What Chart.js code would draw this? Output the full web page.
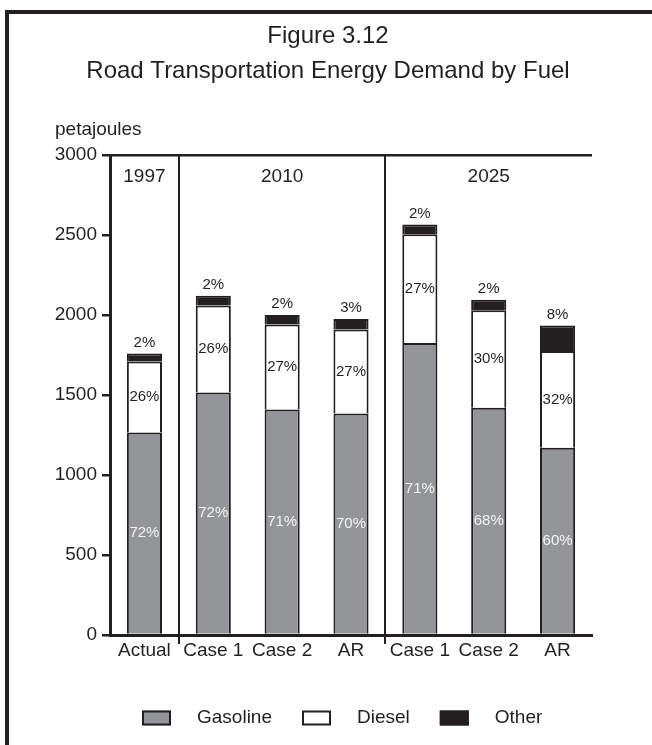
<!DOCTYPE html>
<html>
<head>
<meta charset="utf-8">
<title>Road Transportation Energy Demand by Fuel</title>
<script src="https://cdn.jsdelivr.net/npm/chart.js@4.4.0/dist/chart.umd.min.js"></script>
<style>
  html, body { margin: 0; padding: 0; background: #fff; }
  #wrap { width: 652px; height: 745px; }
</style>
</head>
<body>
<div id="wrap"><canvas id="fuelChart" width="652" height="745"></canvas></div>
<script>
// Chart data (petajoules)
const categories = ['Actual', 'Case 1', 'Case 2', 'AR', 'Case 1', 'Case 2', 'AR'];
const periodLabels = ['1997', '2010', '2025'];
const periodStart = [0, 1, 4];
const periodEnd = [0, 3, 6];

const gasoline = [1265, 1515, 1410, 1385, 1825, 1420, 1170];
const diesel = [445, 545, 530, 525, 680, 610, 605];
const other = [50, 60, 60, 65, 60, 65, 160];

const gasolinePct = ['72%', '72%', '71%', '70%', '71%', '68%', '60%'];
const dieselPct = ['26%', '26%', '27%', '27%', '27%', '30%', '32%'];
const otherPct = ['2%', '2%', '2%', '3%', '2%', '2%', '8%'];

const yTicks = [0, 500, 1000, 1500, 2000, 2500, 3000];
const titleLines = ['Figure 3.12', 'Road Transportation Energy Demand by Fuel'];

const INK = '#231f20';
const GREY = '#939598';
const FONT = "'Liberation Sans', Arial, sans-serif";

// grid lines drawn only at period boundaries (offset grid index)
const boundaries = periodStart.slice(1).concat([categories.length]);

const decorPlugin = {
    id: 'decor',
    beforeDraw(chart) {
        const ctx = chart.ctx;
        ctx.save();
        ctx.fillStyle = '#fff';
        ctx.fillRect(0, 0, chart.width, chart.height);
        // frame: top and left rule
        ctx.strokeStyle = INK;
        ctx.lineWidth = 4;
        ctx.beginPath();
        ctx.moveTo(7, chart.height);
        ctx.lineTo(7, 12);
        ctx.lineTo(chart.width, 12);
        ctx.stroke();

        // title, centred on the page
        ctx.fillStyle = INK;
        ctx.font = '24px ' + FONT;
        ctx.textAlign = 'center';
        ctx.textBaseline = 'middle';
        titleLines.forEach((line, i) => {
            ctx.fillText(line, chart.width / 2 + 2, 36 + i * 35);
        });
        ctx.restore();
    },
    afterDatasetsDraw(chart) {
        const ctx = chart.ctx;
        ctx.save();
        ctx.font = '15px ' + FONT;
        ctx.textAlign = 'center';
        ctx.textBaseline = 'middle';
        const texts = [gasolinePct, dieselPct, otherPct];
        texts.forEach((list, d) => {
            const meta = chart.getDatasetMeta(d);
            meta.data.forEach((bar, i) => {
                const p = bar.getProps(['x', 'y', 'base'], true);
                if (d === 0) {
                    ctx.fillStyle = '#f4f4f4';
                    ctx.fillText(list[i], p.x, (p.y + p.base) / 2);
                } else if (d === 1) {
                    ctx.fillStyle = INK;
                    ctx.fillText(list[i], p.x, (p.y + p.base) / 2);
                } else {
                    ctx.fillStyle = INK;
                    ctx.fillText(list[i], p.x, p.y - 11);
                }
            });
        });
        ctx.restore();
    },
    afterDraw(chart) {
        const ctx = chart.ctx;
        const area = chart.chartArea;
        const x = chart.scales.x;
        ctx.save();
        ctx.fillStyle = INK;
        ctx.font = '19px ' + FONT;

        // unit label
        ctx.textAlign = 'left';
        ctx.textBaseline = 'alphabetic';
        ctx.fillText('petajoules', area.left - 55, area.top - 20);

        // period headings
        ctx.textAlign = 'center';
        ctx.textBaseline = 'middle';
        periodLabels.forEach((label, i) => {
            const cx = (x.getPixelForValue(periodStart[i]) + x.getPixelForValue(periodEnd[i])) / 2;
            ctx.fillText(label, cx, area.top + 22);
        });

        // legend
        const items = chart.data.datasets;
        const boxW = 29, boxH = 15, gapText = 26, gapItem = 30;
        const widths = items.map(ds => ctx.measureText(ds.label).width);
        let lx = area.left + 32;
        const ly = 718;
        ctx.textAlign = 'left';
        items.forEach((ds, i) => {
            ctx.fillStyle = ds.backgroundColor;
            ctx.fillRect(lx, ly - boxH / 2, boxW, boxH);
            ctx.strokeStyle = INK;
            ctx.lineWidth = 2;
            ctx.strokeRect(lx + 1, ly - boxH / 2 + 1, boxW - 2, boxH - 2);
            ctx.fillStyle = INK;
            ctx.fillText(ds.label, lx + boxW + gapText, ly);
            lx += boxW + gapText + widths[i] + gapItem;
        });
        ctx.restore();
    }
};

const barStyle = {
    borderColor: INK,
    borderWidth: 2,
    barPercentage: 0.51,
    categoryPercentage: 1
};

new Chart(document.getElementById('fuelChart'), {
    type: 'bar',
    data: {
        labels: categories,
        datasets: [
            Object.assign({ label: 'Gasoline', data: gasoline, backgroundColor: GREY }, barStyle),
            Object.assign({ label: 'Diesel', data: diesel, backgroundColor: '#ffffff' }, barStyle),
            Object.assign({ label: 'Other', data: other, backgroundColor: INK }, barStyle)
        ]
    },
    options: {
        responsive: false,
        animation: false,
        events: [],
        layout: {
            padding: { left: 0, right: 60, top: 155, bottom: 80 }
        },
        plugins: {
            legend: { display: false },
            tooltip: { enabled: false },
            title: { display: false }
        },
        scales: {
            x: {
                stacked: true,
                offset: true,
                afterFit: scale => { scale.height = 30; },
                grid: {
                    offset: true,
                    color: c => boundaries.includes(c.index) ? INK : 'transparent',
                    tickColor: c => boundaries.includes(c.index) ? INK : 'transparent',
                    lineWidth: 2,
                    tickLength: 9
                },
                border: { display: true, color: INK, width: 3 },
                ticks: {
                    color: INK,
                    font: { family: FONT, size: 19 },
                    padding: -5,
                    maxRotation: 0,
                    autoSkip: false
                }
            },
            y: {
                stacked: true,
                min: yTicks[0],
                max: yTicks[yTicks.length - 1],
                afterFit: scale => { scale.width = 110; },
                afterBuildTicks: scale => {
                    scale.ticks = yTicks.map(v => ({ value: v }));
                },
                grid: {
                    color: c => (c.tick && c.tick.value === yTicks[yTicks.length - 1]) ? INK : 'transparent',
                    tickColor: INK,
                    lineWidth: 2.5,
                    tickLength: 8
                },
                border: { display: true, color: INK, width: 3 },
                ticks: {
                    color: INK,
                    font: { family: FONT, size: 19 },
                    padding: 5,
                    callback: v => String(v)
                }
            }
        }
    },
    plugins: [decorPlugin]
});
</script>
</body>
</html>
